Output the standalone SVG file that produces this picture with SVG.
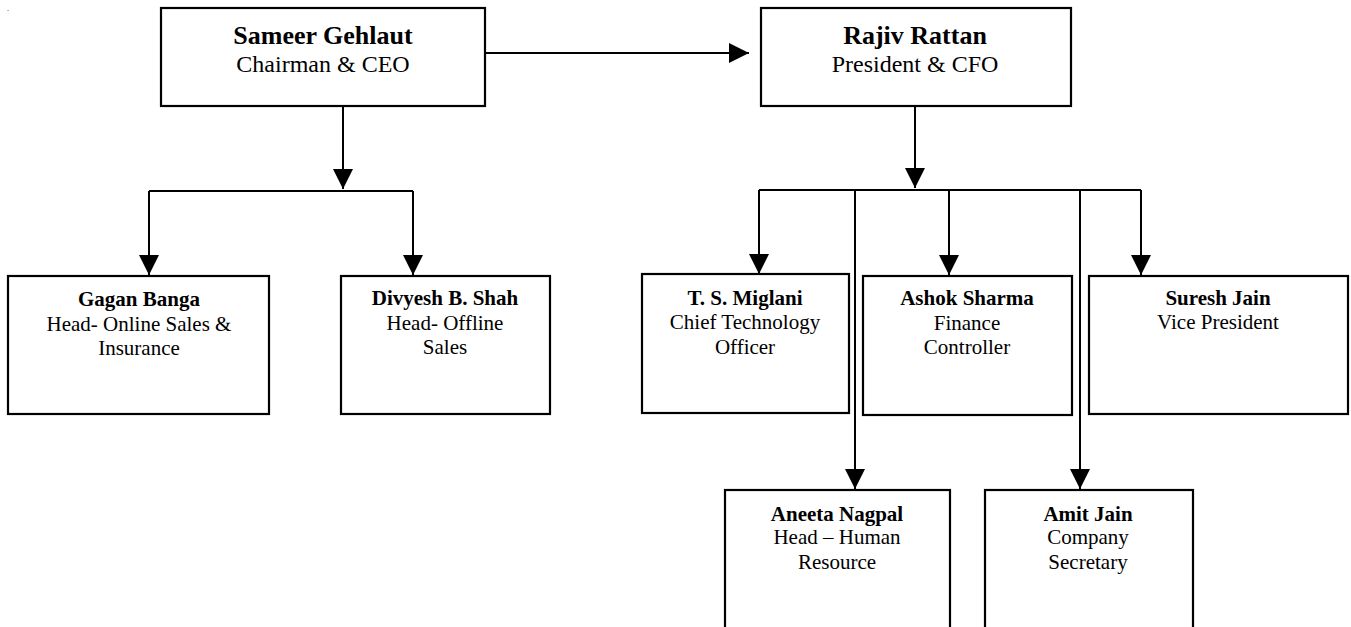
<svg xmlns="http://www.w3.org/2000/svg" width="1351" height="627" viewBox="0 0 1351 627">
<defs>
<style>
.box{fill:#fff;stroke:#000;stroke-width:2.2}
.ln{fill:none;stroke:#000;stroke-width:2}
text{font-family:"Liberation Serif","Times New Roman",serif;fill:#000;text-anchor:middle}
.tb{font-weight:bold;font-size:26px}
.tr{font-size:24px}
.sb{font-weight:bold;font-size:21px}
.sr{font-size:21px}
</style>
<marker id="ah" markerUnits="userSpaceOnUse" markerWidth="20" markerHeight="20" refX="20" refY="10" orient="auto" viewBox="0 0 20 20">
<path d="M0,0 L20,10 L0,20 z" fill="#000"/>
</marker>
</defs>
<rect width="1351" height="627" fill="#fff"/>
<text x="8" y="11" style="font-size:8px">.</text>
<g id="connectors">
<line class="ln" x1="485" y1="53" x2="749" y2="53" marker-end="url(#ah)"/>
<line class="ln" x1="343" y1="106" x2="343" y2="189" marker-end="url(#ah)"/>
<line class="ln" x1="149" y1="191" x2="413" y2="191"/>
<line class="ln" x1="149" y1="191" x2="149" y2="275" marker-end="url(#ah)"/>
<line class="ln" x1="413" y1="191" x2="413" y2="275" marker-end="url(#ah)"/>
<line class="ln" x1="915" y1="106" x2="915" y2="188" marker-end="url(#ah)"/>
<line class="ln" x1="759" y1="190" x2="1141" y2="190"/>
<line class="ln" x1="759" y1="190" x2="759" y2="274" marker-end="url(#ah)"/>
<line class="ln" x1="949" y1="190" x2="949" y2="275" marker-end="url(#ah)"/>
<line class="ln" x1="1141" y1="190" x2="1141" y2="275" marker-end="url(#ah)"/>
<line class="ln" x1="855" y1="190" x2="855" y2="489" marker-end="url(#ah)"/>
<line class="ln" x1="1080" y1="190" x2="1080" y2="489" marker-end="url(#ah)"/>
</g>
<g id="sameer">
<rect class="box" x="161" y="8" width="324" height="98"/>
<text class="tb" x="323" y="44">Sameer Gehlaut</text>
<text class="tr" x="323" y="72">Chairman &amp; CEO</text>
</g>
<g id="rajiv">
<rect class="box" x="761" y="8" width="310" height="98"/>
<text class="tb" x="915" y="44">Rajiv Rattan</text>
<text class="tr" x="915" y="72">President &amp; CFO</text>
</g>
<g id="gagan">
<rect class="box" x="8" y="276" width="261" height="138"/>
<text class="sb" x="139" y="306">Gagan Banga</text>
<text class="sr" x="139" y="331">Head- Online Sales &amp;</text>
<text class="sr" x="139" y="355">Insurance</text>
</g>
<g id="divyesh">
<rect class="box" x="341" y="276" width="209" height="138"/>
<text class="sb" x="445" y="305">Divyesh B. Shah</text>
<text class="sr" x="445" y="330">Head- Offline</text>
<text class="sr" x="445" y="354">Sales</text>
</g>
<g id="miglani">
<rect class="box" x="642" y="274" width="207" height="139"/>
<text class="sb" x="745" y="305">T. S. Miglani</text>
<text class="sr" x="745" y="329">Chief Technology</text>
<text class="sr" x="745" y="354">Officer</text>
</g>
<g id="ashok">
<rect class="box" x="863" y="276" width="209" height="139"/>
<text class="sb" x="967" y="305">Ashok Sharma</text>
<text class="sr" x="967" y="330">Finance</text>
<text class="sr" x="967" y="354">Controller</text>
</g>
<g id="suresh">
<rect class="box" x="1089" y="276" width="259" height="138"/>
<text class="sb" x="1218" y="305">Suresh Jain</text>
<text class="sr" x="1218" y="329">Vice President</text>
</g>
<g id="aneeta">
<rect class="box" x="725" y="490" width="225" height="160"/>
<text class="sb" x="837" y="521">Aneeta Nagpal</text>
<text class="sr" x="837" y="544">Head – Human</text>
<text class="sr" x="837" y="569">Resource</text>
</g>
<g id="amit">
<rect class="box" x="985" y="490" width="208" height="160"/>
<text class="sb" x="1088" y="521">Amit Jain</text>
<text class="sr" x="1088" y="544">Company</text>
<text class="sr" x="1088" y="569">Secretary</text>
</g>
</svg>
